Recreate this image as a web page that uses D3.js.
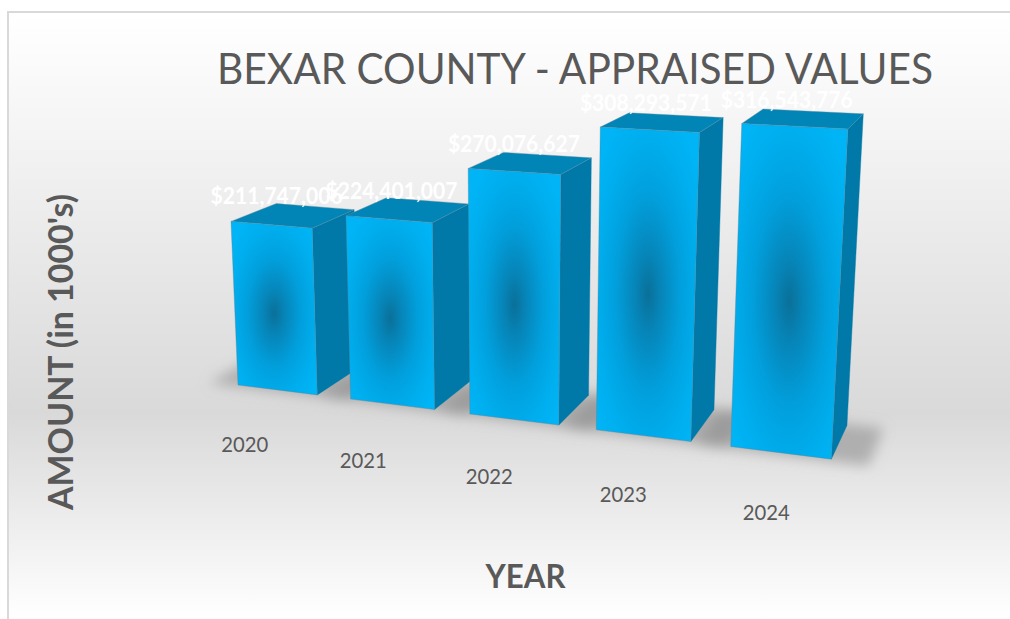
<!DOCTYPE html>
<html>
<head>
<meta charset="utf-8">
<script src="https://cdn.jsdelivr.net/npm/d3@7/dist/d3.min.js"></script>
<style>
  html, body { margin: 0; padding: 0; background: #fff; overflow: hidden; }
  svg { display: block; }
  text { font-family: Lato, "Open Sans", sans-serif; }
</style>
</head>
<body>
<svg id="chart" width="1010" height="619"></svg>
<script>
const years = ["2020", "2021", "2022", "2023", "2024"];
const appraised = [211747006, 224401007, 270076627, 308293571, 316543776];
const chartTitle = "BEXAR COUNTY - APPRAISED VALUES";
const yTitle = "AMOUNT (in 1000's)";
const xTitle = "YEAR";

const svg = d3.select("#chart");
const defs = svg.append("defs");

// Perspective camera: three vanishing points, their weights, and the image of the world origin.
const camera = {
  origin: [238, 385],
  vx: [-3700, -107], wx: -0.0278,
  vy: [513, 6800],   wy: -0.0436,
  vz: [1100, -120],  wz: 0.0537
};
function project(x, h, z) {
  const c = camera;
  const tx = c.wx * x, ty = c.wy * h, tz = c.wz * z;
  const w = 1 + tx + ty + tz;
  return [
    (c.origin[0] + tx * c.vx[0] + ty * c.vy[0] + tz * c.vz[0]) / w,
    (c.origin[1] + tx * c.vx[1] + ty * c.vy[1] + tz * c.vz[1]) / w
  ];
}

const band = d3.scaleBand().domain(years).range([0, years.length - 0.29]).paddingInner(0.29);
const height = d3.scaleLinear().domain([68e6, 320e6]).range([0, 1]);
const moneyFormat = d3.format("$,.0f");
const polygon = pts => "M" + pts.map(p => p.join(",")).join("L") + "Z";

// Chart area background and its two-sided frame
const bg = defs.append("linearGradient").attr("id", "bg").attr("x1", 0).attr("y1", 0).attr("x2", 0).attr("y2", 1);
[[0, "#ffffff"], [0.08, "#fbfbfb"], [0.66, "#d9d9d9"], [1, "#ffffff"]].forEach(([o, c]) =>
  bg.append("stop").attr("offset", o).attr("stop-color", c));
svg.append("rect").attr("x", 7).attr("y", 11).attr("width", 1003).attr("height", 608).attr("fill", "#d9d9d9");
svg.append("rect").attr("x", 9).attr("y", 13).attr("width", 1001).attr("height", 606).attr("fill", "url(#bg)");

// Front-face shading: a dark core fading to bright cyan
const front = defs.append("radialGradient").attr("id", "front").attr("cx", 0.5).attr("cy", 0.53).attr("r", 0.62);
[[0, "#0a7099"], [0.2, "#0685b8"], [0.5, "#019fdc"], [0.8, "#00aeee"], [1, "#00b4f5"]].forEach(([o, c]) =>
  front.append("stop").attr("offset", o).attr("stop-color", c));

defs.append("filter").attr("id", "soft").attr("x", "-30%").attr("y", "-30%").attr("width", "160%").attr("height", "160%")
  .append("feGaussianBlur").attr("stdDeviation", 6.5);

// Floor shadows
svg.append("g").attr("filter", "url(#soft)").selectAll("path").data(years).join("path")
  .attr("fill", "#909090").attr("fill-opacity", 0.6)
  .attr("d", y => {
    const x0 = band(y) - 0.24, x1 = band(y) + band.bandwidth() + 0.26;
    return polygon([project(x0, 0, -0.06), project(x1, 0, -0.06), project(x1, 0, 1.05), project(x0, 0, 1.05)]);
  });

// Bars, painted left to right so each one covers its neighbour's side
const bars = svg.append("g").selectAll("g").data(years.map((y, i) => ({ y, v: appraised[i] }))).join("g");
const edge = "#5f7f90";
bars.append("path").attr("fill", "#0078a8").attr("stroke", "#0078a8").attr("stroke-width", 0.4)
  .attr("d", d => {
    const r = band(d.y) + band.bandwidth(), h = height(d.v);
    return polygon([project(r, 0, 0), project(r, 0, 1), project(r, h, 1), project(r, h, 0)]);
  });
bars.append("path").attr("fill", "#0085b6").attr("stroke", "#6f8f9f").attr("stroke-width", 0.4)
  .attr("d", d => {
    const l = band(d.y), r = l + band.bandwidth(), h = height(d.v);
    return polygon([project(l, h, 0), project(r, h, 0), project(r, h, 1), project(l, h, 1)]);
  });
bars.append("path").attr("fill", "url(#front)").attr("stroke", edge).attr("stroke-opacity", 0.6).attr("stroke-width", 0.6)
  .attr("d", d => {
    const l = band(d.y), r = l + band.bandwidth(), h = height(d.v);
    return polygon([project(l, 0, 0), project(r, 0, 0), project(r, h, 0), project(l, h, 0)]);
  });

// Value labels, anchored to the centre of each bar's top
svg.append("g").selectAll("text").data(years.map((y, i) => ({ y, v: appraised[i] }))).join("text")
  .attr("text-anchor", "middle").attr("fill", "#ffffff").attr("font-weight", 700).attr("font-size", 22.5)
  .attr("textLength", 132).attr("lengthAdjust", "spacingAndGlyphs")
  .attr("x", d => project(band(d.y) + band.bandwidth() / 2, height(d.v), 0.5)[0] - 17)
  .attr("y", d => project(band(d.y) + band.bandwidth() / 2, height(d.v), 0.5)[1] - 11)
  .text(d => moneyFormat(d.v));

// Year labels on the floor in front of the bars
svg.append("g").selectAll("text").data(years).join("text")
  .attr("text-anchor", "middle").attr("fill", "#595959").attr("font-size", 21)
  .attr("textLength", 47).attr("lengthAdjust", "spacingAndGlyphs")
  .attr("x", y => project(band(y) + band.bandwidth() / 2, 0, -0.7)[0])
  .attr("y", y => project(band(y) + band.bandwidth() / 2, 0, -0.7)[1] + 42)
  .text(y => y);

// Titles
svg.append("text").attr("x", 217).attr("y", 83.5).attr("fill", "#595959").attr("font-size", 42)
  .attr("textLength", 716).attr("lengthAdjust", "spacingAndGlyphs").text(chartTitle);
svg.append("text").attr("transform", "translate(72.5,352) rotate(-90)").attr("text-anchor", "middle")
  .attr("fill", "#595959").attr("font-size", 34).attr("font-weight", 700)
  .attr("textLength", 316).attr("lengthAdjust", "spacingAndGlyphs").text(yTitle);
svg.append("text").attr("x", 525.5).attr("y", 588).attr("text-anchor", "middle")
  .attr("fill", "#595959").attr("font-size", 33).attr("font-weight", 700)
  .attr("textLength", 80).attr("lengthAdjust", "spacingAndGlyphs").text(xTitle);
</script>
</body>
</html>
